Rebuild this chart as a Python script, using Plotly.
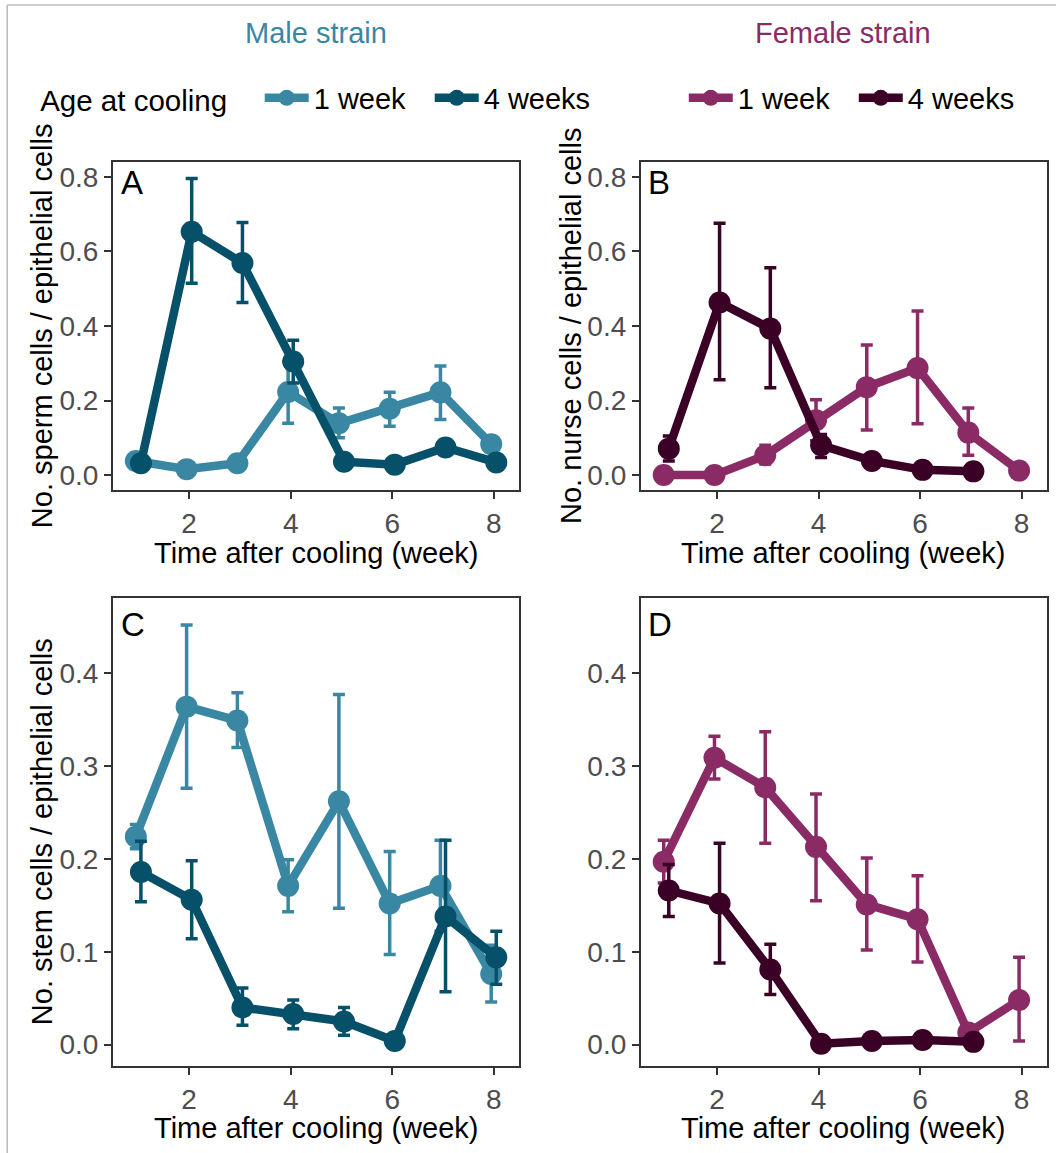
import plotly.graph_objects as go

weeks = [1, 2, 3, 4, 5, 6, 7, 8]
weeks_f4 = [1, 2, 3, 4, 5, 6, 7]

# Panel A: sperm cells / epithelial cells (male strain)
a_1w = [0.038, 0.016, 0.032, 0.223, 0.139, 0.178, 0.222, 0.083]
a_1w_hi = [0.045, 0.022, 0.040, 0.305, 0.180, 0.222, 0.293, 0.090]
a_1w_lo = [0.031, 0.010, 0.025, 0.139, 0.100, 0.131, 0.149, 0.076]
a_4w = [0.032, 0.653, 0.569, 0.305, 0.036, 0.028, 0.074, 0.034]
a_4w_hi = [0.047, 0.796, 0.678, 0.362, 0.040, 0.032, 0.080, 0.038]
a_4w_lo = [0.022, 0.515, 0.463, 0.247, 0.032, 0.024, 0.068, 0.030]

# Panel B: nurse cells / epithelial cells (female strain)
b_1w = [0.000, 0.000, 0.053, 0.147, 0.236, 0.287, 0.114, 0.012]
b_1w_hi = [0.002, 0.002, 0.080, 0.202, 0.349, 0.440, 0.180, 0.016]
b_1w_lo = [0.000, 0.000, 0.030, 0.092, 0.121, 0.138, 0.053, 0.008]
b_4w = [0.071, 0.463, 0.393, 0.080, 0.038, 0.014, 0.010]
b_4w_hi = [0.105, 0.676, 0.556, 0.109, 0.042, 0.018, 0.013]
b_4w_lo = [0.038, 0.256, 0.234, 0.047, 0.034, 0.010, 0.007]

# Panel C: stem cells / epithelial cells (male strain)
c_1w = [0.224, 0.364, 0.349, 0.171, 0.262, 0.152, 0.171, 0.076]
c_1w_hi = [0.237, 0.452, 0.379, 0.199, 0.377, 0.208, 0.220, 0.107]
c_1w_lo = [0.211, 0.276, 0.320, 0.143, 0.147, 0.097, 0.122, 0.046]
c_4w = [0.186, 0.156, 0.040, 0.033, 0.025, 0.004, 0.138, 0.094]
c_4w_hi = [0.219, 0.198, 0.061, 0.048, 0.040, 0.006, 0.220, 0.122]
c_4w_lo = [0.154, 0.114, 0.021, 0.017, 0.010, 0.002, 0.057, 0.065]

# Panel D: stem cells / epithelial cells (female strain)
d_1w = [0.197, 0.309, 0.277, 0.213, 0.151, 0.135, 0.013, 0.048]
d_1w_hi = [0.220, 0.332, 0.337, 0.270, 0.201, 0.182, 0.016, 0.094]
d_1w_lo = [0.174, 0.286, 0.217, 0.155, 0.102, 0.089, 0.010, 0.004]
d_4w = [0.166, 0.152, 0.081, 0.001, 0.004, 0.005, 0.003]
d_4w_hi = [0.194, 0.217, 0.108, 0.002, 0.005, 0.006, 0.004]
d_4w_lo = [0.138, 0.088, 0.054, 0.000, 0.003, 0.004, 0.002]

age_labels = ["1 week", "4 weeks"]
x_ticks = [2, 4, 6, 8]
y_ticks_top = [0.0, 0.2, 0.4, 0.6, 0.8]
y_ticks_bot = [0.0, 0.1, 0.2, 0.3, 0.4]

COL_M1 = "#3A87A3"
COL_M4 = "#06506A"
COL_F1 = "#8A2B65"
COL_F4 = "#3B0026"

W, H = 1058, 1153
ML, MR, MT, MB = 113, 9, 162, 87
PW, PH = W - ML - MR, H - MT - MB

def px(x):
    return (x - ML) / PW

def py(y):
    return (H - MB - y) / PH

fig = go.Figure()
DODGE = 0.05

def add(xs, ys, hi, lo, color, name, xa, ya, legend, show):
    fig.add_trace(go.Scatter(
        x=[x + (-DODGE if name == "1 week" else DODGE) for x in xs], y=ys,
        mode="lines+markers", name=name,
        line=dict(color=color, width=8.5),
        marker=dict(color=color, size=22),
        error_y=dict(type="data", symmetric=False,
                     array=[h - v for h, v in zip(hi, ys)],
                     arrayminus=[v - l for v, l in zip(ys, lo)],
                     color=color, thickness=3.5, width=6),
        xaxis=xa, yaxis=ya, legend=legend, showlegend=show,
    ))

add(weeks, a_1w, a_1w_hi, a_1w_lo, COL_M1, age_labels[0], "x", "y", "legend", True)
add(weeks, a_4w, a_4w_hi, a_4w_lo, COL_M4, age_labels[1], "x", "y", "legend", True)
add(weeks, b_1w, b_1w_hi, b_1w_lo, COL_F1, age_labels[0], "x2", "y2", "legend2", True)
add(weeks_f4, b_4w, b_4w_hi, b_4w_lo, COL_F4, age_labels[1], "x2", "y2", "legend2", True)
add(weeks, c_1w, c_1w_hi, c_1w_lo, COL_M1, age_labels[0], "x3", "y3", "legend", False)
add(weeks, c_4w, c_4w_hi, c_4w_lo, COL_M4, age_labels[1], "x3", "y3", "legend", False)
add(weeks, d_1w, d_1w_hi, d_1w_lo, COL_F1, age_labels[0], "x4", "y4", "legend2", False)
add(weeks_f4, d_4w, d_4w_hi, d_4w_lo, COL_F4, age_labels[1], "x4", "y4", "legend2", False)

FONT = "Liberation Sans, Arial, sans-serif"
TICKFONT = dict(family=FONT, size=28, color="#4D4D4D")

xdom_l = [0, px(520)]
xdom_r = [px(642), 1]
ydom_t = [py(490), 1]
ydom_b = [0, py(598)]

def xaxis(dom, anchor):
    return dict(domain=dom, anchor=anchor, range=[0.5, 8.5], tickvals=x_ticks,
                showgrid=False, zeroline=False, showline=True, linecolor="#333333",
                linewidth=2, mirror=True, ticks="outside", ticklen=7, tickwidth=2,
                tickcolor="#333333", tickfont=TICKFONT)

def yaxis(dom, anchor, rng, tv):
    return dict(domain=dom, anchor=anchor, range=rng, tickvals=tv, tickformat=".1f",
                showgrid=False, zeroline=False, showline=True, linecolor="#333333",
                linewidth=2, mirror=True, ticks="outside", ticklen=7, tickwidth=2,
                tickcolor="#333333", tickfont=TICKFONT)

rng_top = [-0.04, 0.84]
rng_bot = [-0.023, 0.481]

fig.update_layout(
    width=W, height=H, margin=dict(l=ML, r=MR, t=MT, b=MB),
    paper_bgcolor="white", plot_bgcolor="white",
    font=dict(family=FONT, size=29, color="black"),
    xaxis=xaxis(xdom_l, "y"), yaxis=yaxis(ydom_t, "x", rng_top, y_ticks_top),
    xaxis2=xaxis(xdom_r, "y2"), yaxis2=yaxis(ydom_t, "x2", rng_top, y_ticks_top),
    xaxis3=xaxis(xdom_l, "y3"), yaxis3=yaxis(ydom_b, "x3", rng_bot, y_ticks_bot),
    xaxis4=xaxis(xdom_r, "y4"), yaxis4=yaxis(ydom_b, "x4", rng_bot, y_ticks_bot),
    legend=dict(orientation="h", x=px(38), y=py(98), xanchor="left", yanchor="middle",
                title=dict(text="Age at cooling   ", font=dict(size=29.5)),
                font=dict(size=29), bgcolor="rgba(0,0,0,0)", itemwidth=44,
                entrywidth=111),
    legend2=dict(orientation="h", x=px(685), y=py(98), xanchor="left", yanchor="middle",
                 font=dict(size=29), bgcolor="rgba(0,0,0,0)", itemwidth=44,
                 entrywidth=111),
)

ann = []
def text(x, y, s, size=29, color="black", angle=0, xanchor="center"):
    ann.append(dict(x=px(x), y=py(y), xref="paper", yref="paper", text=s, showarrow=False,
                    font=dict(family=FONT, size=size, color=color), textangle=angle,
                    xanchor=xanchor, yanchor="middle"))

text(316, 33, "Male strain", color=COL_M1)
text(845, 33, "Female strain", color=COL_F1)
text(316, 553, "Time after cooling (week)")
text(845, 553, "Time after cooling (week)")
text(316, 1128, "Time after cooling (week)")
text(845, 1128, "Time after cooling (week)")
text(42, 326, "No. sperm cells / epithelial cells", angle=-90)
text(572, 326, "No. nurse cells / epithelial cells", angle=-90)
text(42, 832, "No. stem cells / epithelial cells", angle=-90)
text(119, 182, "A", size=33, xanchor="left")
text(647, 182, "B", size=33, xanchor="left")
text(119, 624, "C", size=33, xanchor="left")
text(647, 624, "D", size=33, xanchor="left")
fig.update_layout(annotations=ann)

fig.add_shape(type="line", xref="paper", yref="paper", x0=px(7), x1=px(7), y0=py(5), y1=py(1153),
              line=dict(color="#BBBBBB", width=1.5))
fig.add_shape(type="line", xref="paper", yref="paper", x0=px(7), x1=px(1058), y0=py(5), y1=py(5),
              line=dict(color="#BBBBBB", width=1.5))

fig.write_html("out.html")
